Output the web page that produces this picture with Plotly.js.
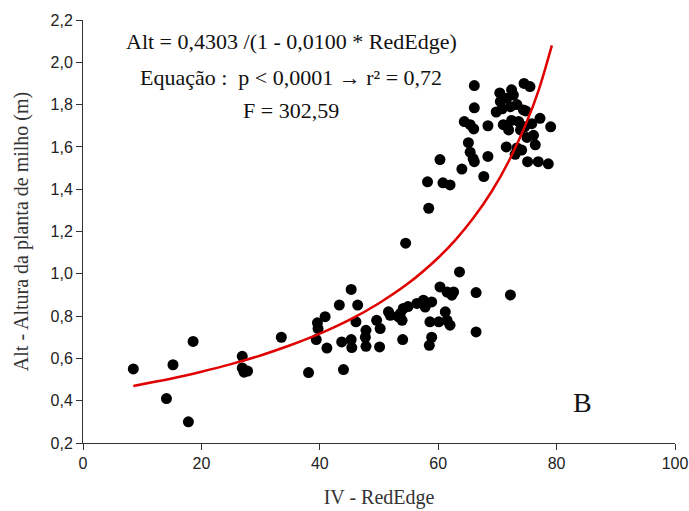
<!DOCTYPE html>
<html>
<head>
<meta charset="utf-8">
<script src="https://cdn.plot.ly/plotly-3.0.1.min.js"></script>
<style>html,body{margin:0;padding:0;background:#fff;}#chart{width:689px;height:511px;}</style>
</head>
<body>
<div id="chart"></div>
<script>
// Observed points: IV - RedEdge (x) vs plant height (y)
const redEdge = [
  8.5,14.1,15.2,17.8,18.6,26.9,26.9,27.2,27.8,33.5,38.1,
  39.6,39.7,39.4,40.9,41.2,43.3,43.7,44.0,45.3,45.3,45.4,
  46.4,46.1,47.8,47.8,47.7,49.6,50.2,50.1,51.6,51.9,54.1,53.6,53.9,53.3,54.0,54.5,54.9,
  56.4,57.5,57.8,58.9,58.6,60.1,61.2,61.5,62.0,58.9,58.5,
  60.3,61.5,62.6,62.3,63.6,66.4,66.4,72.2,
  58.4,58.2,60.3,60.8,62.0,64.0,64.4,65.4,66.0,65.1,65.4,65.9,66.1,66.1,66.1,67.7,68.4,68.4,
  69.8,70.8,70.4,70.5,71.6,72.7,72.4,74.5,75.5,72.2,73.3,74.4,71.0,71.9,72.4,73.6,73.9,
  75.8,77.2,79.0,76.1,76.4,71.5,73.3,74.1,73.0,75.1,76.9,78.6,74.6,75.0,74.8
];
const altura = [
  0.55,0.41,0.57,0.30,0.68,0.61,0.555,0.535,0.54,0.70,0.533,
  0.768,0.741,0.689,0.797,0.649,0.852,0.678,0.547,0.926,0.689,0.651,
  0.852,0.773,0.733,0.657,0.70,0.78,0.741,0.654,0.82,0.804,0.836,0.812,0.78,0.796,0.689,1.145,0.845,
  0.86,0.875,0.843,0.867,0.773,0.773,0.82,0.78,0.757,0.70,0.662,
  0.938,0.914,0.914,0.899,1.009,0.911,0.725,0.90,
  1.31,1.435,1.54,1.43,1.42,1.495,1.72,1.705,1.685,1.62,1.575,1.545,1.53,1.785,1.89,1.46,1.555,1.70,
  1.765,1.78,1.855,1.815,1.83,1.845,1.87,1.90,1.885,1.79,1.80,1.775,1.705,1.68,1.725,1.72,1.68,
  1.71,1.735,1.695,1.655,1.61,1.60,1.595,1.585,1.565,1.53,1.53,1.52,1.695,1.645,1.77
];
// Fitted curve
const curveX = [8.5,15,20,25,30,35,40,45,50,55,60,63,66,69,72,75,77,79.2];
const curveY = [0.47,0.505,0.537,0.573,0.614,0.662,0.717,0.782,0.861,0.956,1.076,1.163,1.266,1.388,1.537,1.721,1.871,2.08];

const xTicks = [0,20,40,60,80,100];
const yTicks = [0.2,0.4,0.6,0.8,1.0,1.2,1.4,1.6,1.8,2.0,2.2];
const yTickText = ['0,2','0,4','0,6','0,8','1,0','1,2','1,4','1,6','1,8','2,0','2,2'];

const eqText = ['Alt = 0,4303 /(1 - 0,0100 * RedEdge)', 'Equação :  p < 0,0001 → r² = 0,72', 'F = 302,59'];
const panelLabel = 'B';

const serif = 'Liberation Serif, Times New Roman, serif';
const sans = 'Liberation Sans, Arial, sans-serif';

const traces = [
  {x: redEdge, y: altura, type: 'scatter', mode: 'markers',
   marker: {color: '#000', size: 11}, hoverinfo: 'x+y'},
  {x: curveX, y: curveY, type: 'scatter', mode: 'lines',
   line: {color: 'rgb(225,0,0)', width: 2.5, shape: 'spline', smoothing: 1}}
];

const layout = {
  width: 689, height: 511,
  margin: {l: 83, r: 14, t: 20, b: 68},
  paper_bgcolor: '#fff', plot_bgcolor: '#fff',
  showlegend: false,
  separators: ',.',
  xaxis: {
    range: [0, 100], tickvals: xTicks, ticks: 'outside', ticklen: 6, tickcolor: '#333',
    showline: true, linecolor: '#333', linewidth: 1, showgrid: false, zeroline: false,
    tickfont: {family: sans, size: 16, color: '#222'},
    title: {text: 'IV - RedEdge', font: {family: serif, size: 20, color: '#333'}, standoff: 18},
    automargin: false
  },
  yaxis: {
    range: [0.2, 2.2], tickvals: yTicks, ticktext: yTickText, ticks: 'outside', ticklen: 6, tickcolor: '#333',
    showline: true, linecolor: '#333', linewidth: 1, showgrid: false, zeroline: false,
    tickfont: {family: sans, size: 16, color: '#222'},
    title: {text: 'Alt - Altura da planta de milho (m)', font: {family: serif, size: 20, color: '#333'}, standoff: 16},
    automargin: false
  },
  annotations: [
    {xref: 'paper', yref: 'paper', x: 0.352, y: 0.948, text: eqText[0], showarrow: false,
     font: {family: serif, size: 22, color: '#111'}, xanchor: 'center', yanchor: 'middle'},
    {xref: 'paper', yref: 'paper', x: 0.352, y: 0.865, text: eqText[1], showarrow: false,
     font: {family: serif, size: 22, color: '#111'}, xanchor: 'center', yanchor: 'middle'},
    {xref: 'paper', yref: 'paper', x: 0.352, y: 0.785, text: eqText[2], showarrow: false,
     font: {family: serif, size: 22, color: '#111'}, xanchor: 'center', yanchor: 'middle'},
    {xref: 'paper', yref: 'paper', x: 0.843, y: 0.096, text: panelLabel, showarrow: false,
     font: {family: serif, size: 28, color: '#111'}, xanchor: 'center', yanchor: 'middle'}
  ]
};

Plotly.newPlot('chart', traces, layout, {displayModeBar: false, staticPlot: true});
</script>
</body>
</html>
